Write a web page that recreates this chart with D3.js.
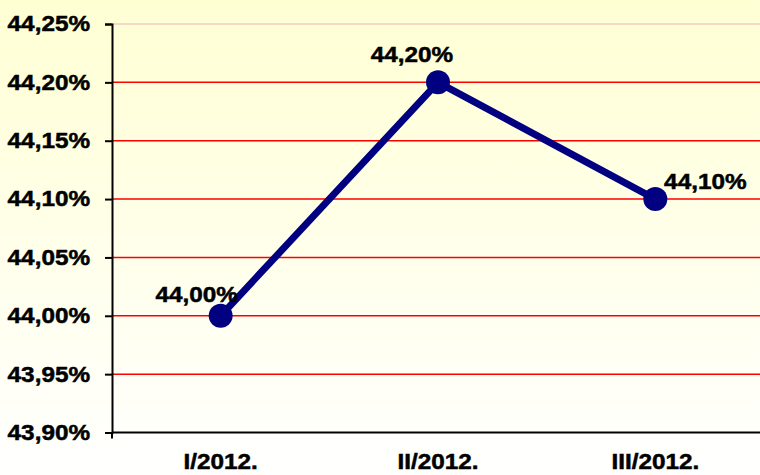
<!DOCTYPE html>
<html>
<head>
<meta charset="utf-8">
<script src="https://cdn.jsdelivr.net/npm/d3@7"></script>
<style>
  body { margin: 0; padding: 0; }
  svg { display: block; }
</style>
</head>
<body>
<script>
// kvartali i vrijednosti
var categories = ["I/2012.", "II/2012.", "III/2012."];
var values = [44.00, 44.20, 44.10];
var tickValues = [43.90, 43.95, 44.00, 44.05, 44.10, 44.15, 44.20, 44.25];
var pointLabels = ["44,00%", "44,20%", "44,10%"];

var w = 760, h = 475;
var mLeft = 112, mRight = 764, mTop = 24, mBottom = 432.5;

var fmt = function(d){ return d.toFixed(2).replace(".", ",") + "%"; };

// tekst malo rastegnut vodoravno, kao na slici
function boldText(sel){
  sel.attr("font-family", "Liberation Sans, Arial, sans-serif")
    .attr("font-size", "21.5px")
    .attr("font-weight", "bold")
    .attr("fill", "#000")
    .attr("stroke", "#000")
    .attr("stroke-width", 0.5)
    .each(function(){
      var len = this.getComputedTextLength();
      d3.select(this).attr("textLength", len * 1.13).attr("lengthAdjust", "spacingAndGlyphs");
    });
}

var svg = d3.select("body").append("svg")
  .attr("width", w)
  .attr("height", h);

// pozadina - gradijent
var grad = svg.append("defs").append("linearGradient")
  .attr("id", "bg").attr("x1", 0).attr("y1", 0).attr("x2", 0).attr("y2", 1);
grad.append("stop").attr("offset", "0%").attr("stop-color", "#ffffd4");
grad.append("stop").attr("offset", "100%").attr("stop-color", "#ffffff");
svg.append("rect").attr("width", w).attr("height", h).attr("fill", "url(#bg)");

var x = d3.scaleBand().domain(categories).range([mLeft, mRight]);
var y = d3.scaleLinear().domain([43.90, 44.25]).range([mBottom, mTop]);

// grid linije
svg.selectAll("line.grid")
  .data(tickValues.slice(1))
  .enter()
  .append("line")
  .attr("class", "grid")
  .attr("x1", mLeft).attr("x2", w)
  .attr("y1", function(d){ return y(d); })
  .attr("y2", function(d){ return y(d); })
  .attr("stroke", function(d){ return d === 44.25 ? "#f6c8c8" : "#ff0000"; })
  .attr("stroke-width", 1.5);

// y os
var yAxis = svg.append("g")
  .attr("transform", "translate(" + mLeft + ",0)")
  .call(d3.axisLeft(y).tickValues(tickValues).tickFormat(fmt).tickSize(7).tickPadding(15));
yAxis.select(".domain").attr("stroke", "#000").attr("stroke-width", 2);
yAxis.selectAll(".tick line").attr("stroke", "#000").attr("stroke-width", 2);
yAxis.selectAll("text").call(boldText);

// x os
var xAxis = svg.append("g")
  .attr("transform", "translate(0," + mBottom + ")")
  .call(d3.axisBottom(x).tickSize(0).tickPadding(21));
xAxis.select(".domain").attr("stroke", "#000").attr("stroke-width", 2)
  .attr("d", "M" + mLeft + ",0H" + w);
xAxis.append("line").attr("x1", mLeft).attr("x2", mLeft).attr("y1", 0).attr("y2", 6)
  .attr("stroke", "#000").attr("stroke-width", 2);
xAxis.selectAll("text").call(boldText);

var data = categories.map(function(c, i){ return {cat: c, val: values[i], label: pointLabels[i]}; });
var cx = function(d){ return x(d.cat) + x.bandwidth() / 2; };

// linija
var line = d3.line().x(cx).y(function(d){ return y(d.val); });
svg.append("path")
  .datum(data)
  .attr("d", line)
  .attr("fill", "none")
  .attr("stroke", "#000080")
  .attr("stroke-width", 7)
  .attr("stroke-linejoin", "round");

// labele iznad tocaka
var offs = [[-24, -14], [-26, -20], [50, -10]];
svg.selectAll("text.lbl")
  .data(data)
  .enter()
  .append("text")
  .attr("class", "lbl")
  .text(function(d){ return d.label; })
  .attr("x", function(d, i){ return cx(d) + offs[i][0]; })
  .attr("y", function(d, i){ return y(d.val) + offs[i][1]; })
  .attr("text-anchor", "middle")
  .call(boldText);

// tocke
svg.selectAll("circle")
  .data(data)
  .enter()
  .append("circle")
  .attr("cx", cx)
  .attr("cy", function(d){ return y(d.val); })
  .attr("r", 12)
  .attr("fill", "#000080");
</script>
</body>
</html>
